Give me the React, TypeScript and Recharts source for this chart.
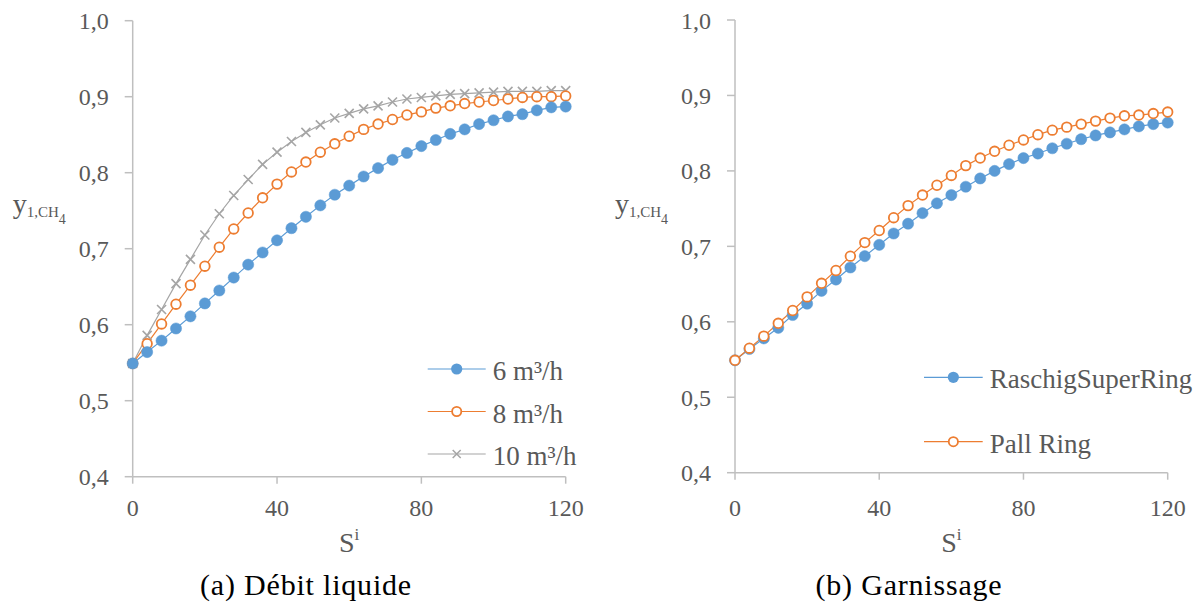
import { LineChart, Line, XAxis, YAxis, Label } from 'recharts';

// stage index S^i (same for both panels)
const sSteps = [0, 4, 8, 12, 16, 20, 24, 28, 32, 36, 40, 44, 48, 52, 56, 60, 64, 68, 72, 76, 80, 84, 88, 92, 96, 100, 104, 108, 112, 116, 120];

// (a) liquid flow rate
const flow6 = [0.549, 0.564, 0.579, 0.595, 0.611, 0.628, 0.645, 0.662, 0.679, 0.695, 0.711, 0.727, 0.742, 0.757, 0.771, 0.783, 0.795, 0.806, 0.817, 0.826, 0.835, 0.843, 0.851, 0.857, 0.864, 0.869, 0.874, 0.877, 0.882, 0.886, 0.887];
const flow8 = [0.549, 0.575, 0.601, 0.627, 0.652, 0.677, 0.702, 0.726, 0.747, 0.767, 0.785, 0.801, 0.814, 0.827, 0.838, 0.848, 0.857, 0.864, 0.870, 0.876, 0.880, 0.885, 0.888, 0.891, 0.893, 0.895, 0.897, 0.899, 0.900, 0.900, 0.901];
const flow10 = [0.549, 0.586, 0.620, 0.654, 0.686, 0.718, 0.746, 0.770, 0.791, 0.811, 0.827, 0.841, 0.853, 0.863, 0.872, 0.878, 0.884, 0.888, 0.893, 0.897, 0.899, 0.901, 0.903, 0.904, 0.905, 0.906, 0.907, 0.907, 0.907, 0.908, 0.908];

// (b) packing
const raschig = [0.549, 0.564, 0.578, 0.592, 0.609, 0.624, 0.641, 0.656, 0.672, 0.687, 0.702, 0.717, 0.730, 0.744, 0.757, 0.768, 0.779, 0.790, 0.800, 0.809, 0.817, 0.823, 0.830, 0.836, 0.842, 0.847, 0.851, 0.855, 0.859, 0.862, 0.864];
const pall = [0.549, 0.565, 0.581, 0.598, 0.615, 0.633, 0.651, 0.668, 0.687, 0.705, 0.721, 0.738, 0.754, 0.768, 0.781, 0.794, 0.807, 0.817, 0.826, 0.834, 0.841, 0.848, 0.854, 0.858, 0.862, 0.866, 0.870, 0.873, 0.874, 0.876, 0.878];

const yTicks = [0.4, 0.5, 0.6, 0.7, 0.8, 0.9, 1.0];
const xTicks = [0, 40, 80, 120];

const leftData = sSteps.map((s, i) => ({ s, q6: flow6[i], q8: flow8[i], q10: flow10[i] }));
const rightData = sSteps.map((s, i) => ({ s, rsr: raschig[i], pall: pall[i] }));

const BLUE = '#5B9BD5';
const ORANGE = '#ED7D31';
const GRAY = '#A5A5A5';
const AXIS = '#BFBFBF';
const TEXT = '#595959';
const FONT = '"Liberation Serif", "Times New Roman", serif';

const fmt = (v: number) => v.toFixed(1).replace('.', ',');

const filledDot = { r: 5.6, fill: BLUE, stroke: BLUE, strokeWidth: 0.5 };
const openDot = { r: 4.8, fill: '#fff', stroke: ORANGE, strokeWidth: 1.8 };

const CrossDot = (props: any) => {
  const { cx, cy, index } = props;
  const d = 4.5;
  return (
    <path
      key={`x-${index}`}
      d={`M${cx - d},${cy - d}L${cx + d},${cy + d}M${cx - d},${cy + d}L${cx + d},${cy - d}`}
      stroke={GRAY}
      strokeWidth={1.6}
      fill="none"
    />
  );
};

const YTitle = ({ viewBox }: any) => (
  <text x={viewBox.x + viewBox.width - 120} y={213} fill={TEXT} fontFamily={FONT}>
    <tspan fontSize={28}>y</tspan>
    <tspan fontSize={15} dy={4}>1,CH</tspan>
    <tspan fontSize={14} dy={7}>4</tspan>
  </text>
);

const XTitle = ({ viewBox }: any) => (
  <text x={viewBox.x + viewBox.width / 2} y={552} fill={TEXT} fontFamily={FONT} textAnchor="middle">
    <tspan fontSize={28}>S</tspan>
    <tspan fontSize={17} dy={-12}>i</tspan>
  </text>
);

const tickStyle = { fill: TEXT, fontSize: 24, fontFamily: FONT };
const axisStroke = { stroke: AXIS, strokeWidth: 1.5 };

const leftLegend = [
  { label: '6 m³/h', color: BLUE, kind: 'filled' },
  { label: '8 m³/h', color: ORANGE, kind: 'open' },
  { label: '10 m³/h', color: GRAY, kind: 'cross' },
];
const rightLegend = [
  { label: 'RaschigSuperRing', color: BLUE, kind: 'filled' },
  { label: 'Pall Ring', color: ORANGE, kind: 'open' },
];

const LegendBlock = ({ items, x0, x1, y0, gap }: any) => (
  <g>
    {items.map((it: any, i: number) => {
      const y = y0 + i * gap;
      const mx = (x0 + x1) / 2;
      return (
        <g key={it.label}>
          <line x1={x0} x2={x1} y1={y} y2={y} stroke={it.color} strokeWidth={1.2} />
          {it.kind === 'filled' && <circle cx={mx} cy={y} r={5.6} fill={it.color} />}
          {it.kind === 'open' && <circle cx={mx} cy={y} r={4.6} fill="#fff" stroke={it.color} strokeWidth={1.8} />}
          {it.kind === 'cross' && (
            <path d={`M${mx - 4},${y - 4}L${mx + 4},${y + 4}M${mx - 4},${y + 4}L${mx + 4},${y - 4}`} stroke={it.color} strokeWidth={1.5} />
          )}
          <text x={x1 + 7} y={y + 11} fill={TEXT} fontSize={27} fontFamily={FONT}>
            {it.label}
          </text>
        </g>
      );
    })}
  </g>
);

export default function App() {
  return (
    <div style={{ position: 'absolute', left: 0, top: 0, width: 1203, height: 605, background: '#fff' }}>
      <div style={{ position: 'absolute', left: 0, top: 0 }}>
        <LineChart width={600} height={605} data={leftData} margin={{ top: 20.7, right: 34.3, bottom: 68.3, left: 0 }}>
          <XAxis
            dataKey="s"
            type="number"
            domain={[0, 120]}
            ticks={xTicks}
            height={60}
            tick={tickStyle}
            tickSize={7}
            tickMargin={15}
            axisLine={axisStroke}
            tickLine={axisStroke}
          >
            <Label content={XTitle} />
          </XAxis>
          <YAxis
            type="number"
            domain={[0.4, 1]}
            ticks={yTicks}
            tickFormatter={fmt}
            width={132.7}
            tick={tickStyle}
            tickSize={8}
            tickMargin={16}
            axisLine={axisStroke}
            tickLine={axisStroke}
          >
            <Label content={YTitle} />
          </YAxis>
          <Line dataKey="q10" stroke={GRAY} strokeWidth={1.2} dot={CrossDot} isAnimationActive={false} />
          <Line dataKey="q8" stroke={ORANGE} strokeWidth={1.2} dot={openDot} isAnimationActive={false} />
          <Line dataKey="q6" stroke={BLUE} strokeWidth={1.2} dot={filledDot} isAnimationActive={false} />
        </LineChart>
      </div>
      <div style={{ position: 'absolute', left: 600, top: 0 }}>
        <LineChart width={603} height={605} data={rightData} margin={{ top: 20, right: 35.3, bottom: 72.3, left: 0 }}>
          <XAxis
            dataKey="s"
            type="number"
            domain={[0, 120]}
            ticks={xTicks}
            height={60}
            tick={tickStyle}
            tickSize={7}
            tickMargin={19}
            axisLine={axisStroke}
            tickLine={axisStroke}
          >
            <Label content={XTitle} />
          </XAxis>
          <YAxis
            type="number"
            domain={[0.4, 1]}
            ticks={yTicks}
            tickFormatter={fmt}
            width={135}
            tick={tickStyle}
            tickSize={8}
            tickMargin={16}
            axisLine={axisStroke}
            tickLine={axisStroke}
          >
            <Label content={YTitle} />
          </YAxis>
          <Line dataKey="rsr" stroke={BLUE} strokeWidth={1.2} dot={filledDot} isAnimationActive={false} />
          <Line dataKey="pall" stroke={ORANGE} strokeWidth={1.2} dot={openDot} isAnimationActive={false} />
        </LineChart>
      </div>
      <svg width={1203} height={605} style={{ position: 'absolute', left: 0, top: 0, pointerEvents: 'none' }}>
        <LegendBlock items={leftLegend} x0={427.7} x1={485.7} y0={369} gap={42.5} />
        <LegendBlock items={rightLegend} x0={924} x1={982.7} y0={377.3} gap={64.4} />
        <text x={306} y={595} textAnchor="middle" fontSize={30} letterSpacing={0.8} fontFamily={FONT} fill="#000">
          (a) Débit liquide
        </text>
        <text x={909} y={595} textAnchor="middle" fontSize={30} letterSpacing={0.8} fontFamily={FONT} fill="#000">
          (b) Garnissage
        </text>
      </svg>
    </div>
  );
}
